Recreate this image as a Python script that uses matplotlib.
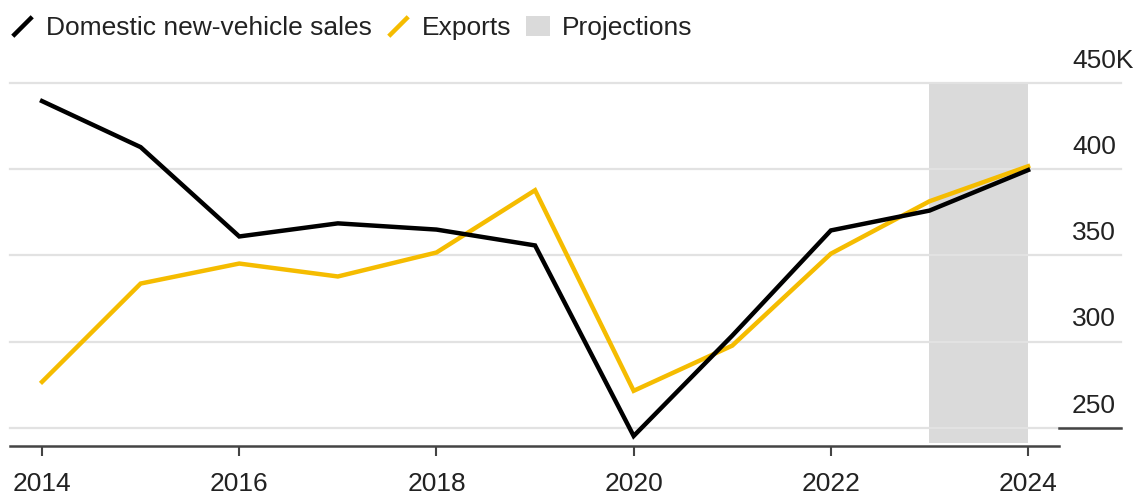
import matplotlib
matplotlib.use("Agg")
import matplotlib.pyplot as plt
from matplotlib.lines import Line2D
from matplotlib.patches import Patch

plt.rcParams['font.family'] = ['Liberation Sans', 'DejaVu Sans']

years = [2014, 2015, 2016, 2017, 2018, 2019, 2020, 2021, 2022, 2023, 2024]
domestic = [439.5, 412.8, 361.0, 368.6, 365.0, 355.8, 245.3, 303.5, 364.5, 376.0, 399.5]
exports = [276.7, 333.7, 345.3, 337.8, 351.7, 387.8, 271.5, 297.7, 351.0, 381.4, 401.7]
proj_start, proj_end = 2023, 2024
y_ticks = [250, 300, 350, 400, 450]
y_labels = ['250', '300', '350', '400', '450K']
x_ticks = [2014, 2016, 2018, 2020, 2022, 2024]

black = '#000000'
yellow = '#F5BC00'
grey = '#DADADA'
txt = '#222222'
fs = 19

fig = plt.figure(figsize=(11.41, 4.96), dpi=100)
ax = fig.add_axes([0.00876, 0.1008, 0.9194, 0.7319])

ax.set_xlim(2013.675, 2024.314)
ax.set_ylim(239.5, 450)

ax.axvspan(proj_start, proj_end, ymin=0.008, ymax=1, color=grey, lw=0, zorder=0)

ext = (1121 - 10) / 1049
for v, lab in zip(y_ticks, y_labels):
    ax.axhline(v, xmin=0, xmax=ext, color='#E2E2E2', lw=1.6, clip_on=False, zorder=1)
    ax.annotate(lab, xy=(1.0124, v), xycoords=('axes fraction', 'data'),
                xytext=(0, 11), textcoords='offset points',
                ha='left', va='baseline', fontsize=fs, color=txt)
ax.axhline(y_ticks[0], xmin=1.0, xmax=ext, color='#444444', lw=1.8, clip_on=False, zorder=2)

ax.plot(years, exports, color=yellow, lw=3.2, zorder=3, solid_joinstyle='miter')
ax.plot(years, domestic, color=black, lw=3.2, zorder=4, solid_joinstyle='miter')

for s in ['top', 'right', 'left']:
    ax.spines[s].set_visible(False)
ax.spines['bottom'].set_color('#444444')
ax.spines['bottom'].set_linewidth(1.8)
ax.set_yticks([])
ax.set_xticks(x_ticks)
ax.set_xticklabels([str(x) for x in x_ticks])
ax.tick_params(axis='x', length=7, width=1.5, color='#444444', pad=12,
               labelsize=fs, labelcolor=txt)

slash = [(-1, -1), (1, 1)]
handles = [
    Line2D([], [], color=black, marker=slash, markersize=14, markeredgewidth=3.2, linestyle='none'),
    Line2D([], [], color=yellow, marker=slash, markersize=14, markeredgewidth=3.2, linestyle='none'),
    Patch(facecolor=grey, edgecolor='none'),
]
leg = fig.legend(handles, ['Domestic new-vehicle sales', 'Exports', 'Projections'],
                 loc='upper left', bbox_to_anchor=(-0.007, 1.005), ncol=3, frameon=False,
                 fontsize=fs, handlelength=0.9, handleheight=0.8, handletextpad=0.45,
                 columnspacing=0.55, borderaxespad=0.3)
for t in leg.get_texts():
    t.set_color(txt)

fig.savefig('out.png', dpi=100)
